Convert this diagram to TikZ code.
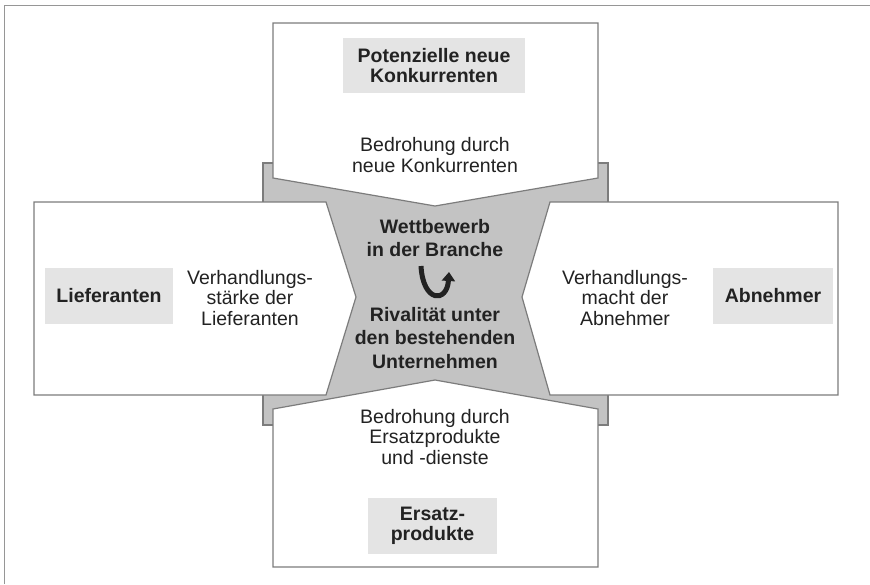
\documentclass[tikz,border=0pt]{standalone}
\usepackage{fontspec}
\setmainfont{Liberation Sans}
\usetikzlibrary{arrows.meta}
\definecolor{linegray}{HTML}{7C7C7C}
\definecolor{coregray}{HTML}{C3C3C3}
\definecolor{labelgray}{HTML}{E4E4E4}
\definecolor{inkgray}{HTML}{222222}
\begin{document}
\begin{tikzpicture}[x=1pt,y=-1pt,
	wall/.style={draw=linegray,line width=1.2pt,fill=white,line join=miter},
	tag/.style={fill=labelgray,align=center,text=inkgray,inner sep=0pt,
		font=\bfseries\fontsize{19.5}{20.5}\selectfont},
	desc/.style={align=center,text=inkgray,inner sep=0pt,
		font=\fontsize{19.5}{20.5}\selectfont},
	core/.style={align=center,text=inkgray,inner sep=0pt,
		font=\bfseries\fontsize{19.5}{23.5}\selectfont}]
	\useasboundingbox (0,0) rectangle (870,584);
	\draw[draw=linegray!80,line width=1pt] (4,584) -- (4,5) -- (870,5);
	\draw[draw=linegray,line width=1.2pt,fill=coregray] (263,163) rectangle (608,425);
	\draw[wall] (273,23) -- (598,23) -- (598,178) -- (435,206) -- (273,178) -- cycle;
	\draw[wall] (273,567) -- (598,567) -- (598,409) -- (435,380) -- (273,409) -- cycle;
	\draw[wall] (34,202) -- (326,202) -- (356,297) -- (326,395) -- (34,395) -- cycle;
	\draw[wall] (838,202) -- (550,202) -- (522,297) -- (550,395) -- (838,395) -- cycle;
	\node[tag,minimum width=182pt,minimum height=55pt] (neue) at (434,65.5) {Potenzielle neue\\Konkurrenten};
	\node[tag,minimum width=128pt,minimum height=56pt] (lief) at (109,296) {Lieferanten};
	\node[tag,minimum width=120pt,minimum height=56pt] (abn) at (773,296) {Abnehmer};
	\node[tag,minimum width=129pt,minimum height=56pt] (ersatz) at (432.5,526) {Ersatz-\\produkte};
	\node[desc] (bedrneue) at (435,155) {Bedrohung durch\\neue Konkurrenten};
	\node[desc] (verhlief) at (250,298) {Verhandlungs-\\stärke der\\Lieferanten};
	\node[desc] (verhabn) at (625,298) {Verhandlungs-\\macht der\\Abnehmer};
	\node[desc] (bedrers) at (435,437) {Bedrohung durch\\Ersatzprodukte\\und -dienste};
	\node[core] (wettb) at (435,238) {Wettbewerb\\in der Branche};
	\node[core] (rival) at (435,338) {Rivalität unter\\den bestehenden\\Unternehmen};
	\draw[line width=5pt,draw=inkgray,-{Triangle[length=9pt,width=13pt]}]
		(421,266) .. controls (423,303) and (447,303) .. (449,272);
\end{tikzpicture}
\end{document}
